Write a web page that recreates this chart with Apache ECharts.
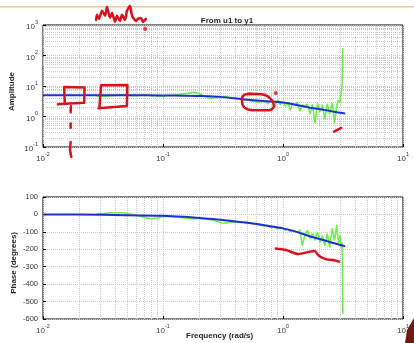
<!DOCTYPE html>
<html>
<head>
<meta charset="utf-8">
<script src="https://cdn.jsdelivr.net/npm/echarts@6/dist/echarts.min.js"></script>
<style>
  html, body { margin: 0; padding: 0; background: #fff; }
  #chart { width: 414px; height: 343px; }
</style>
</head>
<body>
<div id="chart"></div>
<script>
// model (blue) curve
const freqModel = [0.01, 0.02, 0.05, 0.1, 0.15, 0.2, 0.3, 0.46, 0.7, 1, 1.3, 1.67, 2, 2.5, 3, 3.3];
const ampModel = [5.0, 5.0, 4.95, 4.9, 4.8, 4.7, 4.4, 3.7, 3.2, 2.86, 2.4, 1.95, 1.75, 1.5, 1.32, 1.26];
const phaseModel = [0, -1, -4, -8, -14, -20, -30, -45, -62, -80, -100, -125, -140, -160, -175, -182];

// measured (green) response
const freqMeas = [0.028, 0.032, 0.036, 0.04, 0.045, 0.05, 0.056, 0.063, 0.07, 0.08, 0.09, 0.1, 0.11, 0.125,
  0.14, 0.16, 0.18, 0.2, 0.22, 0.25, 0.28, 0.32, 0.36, 0.4, 0.45, 0.5, 0.56, 0.63, 0.7, 0.75, 0.8, 0.85,
  0.9, 0.95, 1.0, 1.05, 1.1, 1.15, 1.2, 1.26, 1.32, 1.38, 1.45, 1.52, 1.6, 1.68, 1.76, 1.85, 1.94, 2.03,
  2.13, 2.23, 2.34, 2.45, 2.57, 2.69, 2.8, 2.9, 2.98, 3.05, 3.1, 3.13, 3.15];
const ampMeas = [4.6, 4.5, 4.7, 5.0, 5.2, 5.0, 4.8, 4.9, 5.1, 4.9, 4.6, 4.7, 4.9, 5.1,
  5.4, 5.8, 6.2, 5.6, 4.6, 3.9, 4.2, 4.5, 4.3, 4.0, 3.6, 3.5, 3.2, 2.9, 3.3, 2.6, 3.4, 2.0,
  3.6, 2.4, 3.1, 2.2, 2.9, 1.6, 2.7, 2.3, 3.0, 1.5, 2.4, 2.0, 2.6, 1.2, 2.5, 0.6, 2.7, 1.4,
  2.4, 0.8, 2.6, 1.2, 2.8, 0.6, 2.2, 3.5, 2.8, 6, 9, 40, 170];
const phaseMeas = [3, 6, 9, 10, 9, 6, 0, -8, -18, -25, -20, -12, -10, -14,
  -18, -22, -26, -22, -26, -30, -40, -52, -45, -44, -46, -44, -52, -60, -66, -64, -76, -70,
  -84, -72, -80, -92, -84, -98, -90, -96, -104, -88, -180, -120, -90, -140, -110, -150, -100, -160,
  -120, -180, -110, -190, -80, -150, -60, -170, -120, -190, -160, -350, -570];

// hand-drawn red marks (in data units)
const redRect1 = [[0.0133, 2.5], [0.0152, 2.6], [0.0150, 9.3], [0.0222, 9.0], [0.0220, 2.8], [0.0152, 2.6]];
const redRect2 = [[0.0295, 1.9], [0.0305, 10.5], [0.0505, 10.8], [0.0500, 2.2], [0.0290, 1.85]];
const redDash1 = [[0.0171, 2.15], [0.0170, 1.37]];
const redDash2 = [[0.0170, 0.59], [0.0170, 0.43]];
const redDash3 = [[0.0170, 0.146], [0.0168, 0.08], [0.0172, 0.047]];
const redOval = [[0.52, 5.6], [0.695, 5.2], [0.81, 3.4], [0.84, 2.2], [0.76, 1.6], [0.57, 1.6],
  [0.47, 2.1], [0.455, 3.7], [0.48, 5.2], [0.54, 5.6]];
const redScribble = [[0.0277, 1468], [0.0282, 2154], [0.0293, 1585], [0.0310, 2929], [0.0329, 1995],
  [0.0341, 3981], [0.0362, 1711], [0.0376, 2512], [0.0398, 1259], [0.0413, 1995], [0.0438, 1359],
  [0.0455, 2154], [0.0482, 1468], [0.0501, 2929], [0.0531, 4300], [0.0552, 1995], [0.0595, 1359],
  [0.0618, 1585], [0.0655, 1711], [0.0681, 1259], [0.0721, 1585]];
const redStroke = [[2.66, 0.32], [3.06, 0.42]];
const redDots = [[0.071, 736], [0.87, 5.85]];
const redPhase = [[0.87, -195], [1.06, -204], [1.34, -227], [1.67, -214], [1.83, -210], [2.0, -239],
  [2.31, -258], [2.6, -262], [2.93, -271]];

// axes
const freqDecades = [0.01, 0.1, 1, 10];
const ampDecades = [0.1, 1, 10, 100, 1000];
const phaseTicks = [100, 0, -100, -200, -300, -400, -500, -600];

const gridColor = '#c8c8c8';
const red = '#d8111b';

const minorFreq = [];
freqDecades.slice(0, -1).forEach(d => { for (let k = 2; k <= 9; k++) minorFreq.push(d * k); });
const minorAmp = [];
ampDecades.slice(0, -1).forEach(d => { for (let k = 2; k <= 9; k++) minorAmp.push(d * k); });

const chart = echarts.init(document.getElementById('chart'));

const supLabel = {
  fontFamily: 'Liberation Sans',
  color: '#333',
  formatter: v => '{b|10}{s|' + Math.round(Math.log10(v)) + '}',
  rich: {
    b: { fontSize: 8, lineHeight: 12, verticalAlign: 'bottom', color: '#333' },
    s: { fontSize: 5.5, lineHeight: 12, verticalAlign: 'top', color: '#333' }
  }
};

const xAxisBase = (gridIndex) => ({
  type: 'log', logBase: 10, min: 0.01, max: 10, gridIndex,
  axisLine: { show: false, onZero: false },
  axisTick: { inside: true, length: 3, lineStyle: { color: '#000' } },
  axisLabel: Object.assign({ margin: 4 }, supLabel),
  splitLine: { show: true, lineStyle: { color: gridColor, type: 'dotted' } }
});

// minor grid lines for the log decades, kept under the curves
function gridLines(xIdx, yIdx, xs, ys) {
  return {
    type: 'line', xAxisIndex: xIdx, yAxisIndex: yIdx, data: [], silent: true, z: 1,
    markLine: {
      z: 1, silent: true, animation: false, symbol: ['none', 'none'], label: { show: false },
      lineStyle: { color: gridColor, type: 'dotted', width: 1 },
      data: xs.map(v => ({ xAxis: v })).concat(ys.map(v => ({ yAxis: v })))
    }
  };
}

function redLine(data, xIdx, yIdx) {
  return {
    type: 'line', xAxisIndex: xIdx, yAxisIndex: yIdx, data, showSymbol: false, clip: false,
    silent: true, z: 10, lineStyle: { color: red, width: 2.5, cap: 'round', join: 'round' }
  };
}

chart.setOption({
  animation: false,
  backgroundColor: '#fff',
  title: {
    text: 'From u1 to y1', left: 222, top: 12, textAlign: 'center',
    textStyle: { fontSize: 8, fontWeight: 'bold', color: '#222', fontFamily: 'Liberation Sans' }
  },
  graphic: [
    { type: 'rect', shape: { x: 0, y: 6, width: 414, height: 1.5 }, style: { fill: '#e6cc95' } },
    { type: 'polygon', shape: { points: [[405, 343], [407, 330], [414, 318], [414, 343]] }, style: { fill: '#6e1a12' } },
    { type: 'text', left: 8, top: 72, rotation: Math.PI / 2,
      style: { text: 'Amplitude', fontSize: 8, fontWeight: 'bold', fill: '#222', fontFamily: 'Liberation Sans' } },
    { type: 'text', left: 10, top: 232, rotation: Math.PI / 2,
      style: { text: 'Phase (degrees)', fontSize: 8, fontWeight: 'bold', fill: '#222', fontFamily: 'Liberation Sans' } },
    { type: 'text', left: 186, top: 332,
      style: { text: 'Frequency (rad/s)', fontSize: 8, fontWeight: 'bold', fill: '#222', fontFamily: 'Liberation Sans' } }
  ],
  grid: [
    { left: 43, top: 25, width: 360, height: 122, show: true, borderColor: '#000', borderWidth: 1, backgroundColor: '#fff' },
    { left: 43, top: 197, width: 360, height: 122, show: true, borderColor: '#000', borderWidth: 1, backgroundColor: '#fff' }
  ],
  xAxis: [xAxisBase(0), xAxisBase(1)],
  yAxis: [
    {
      type: 'log', logBase: 10, min: 0.1, max: 1000, gridIndex: 0,
      axisLine: { show: false, onZero: false },
      axisTick: { inside: true, length: 3, lineStyle: { color: '#000' } },
      axisLabel: Object.assign({ margin: 5 }, supLabel),
      splitLine: { show: true, lineStyle: { color: gridColor, type: 'dotted' } }
    },
    {
      type: 'value', min: -600, max: 100, interval: 100, gridIndex: 1,
      axisLine: { show: false, onZero: false },
      axisTick: { inside: true, length: 3, lineStyle: { color: '#000' } },
      axisLabel: { fontSize: 7.5, color: '#333', margin: 5, fontFamily: 'Liberation Sans',
        formatter: v => phaseTicks.includes(v) ? String(v) : '' },
      splitLine: { show: true, lineStyle: { color: gridColor, type: 'dotted' } }
    }
  ],
  series: [
    gridLines(0, 0, minorFreq, minorAmp),
    gridLines(1, 1, minorFreq, []),
    {
      type: 'line', xAxisIndex: 0, yAxisIndex: 0, showSymbol: false, z: 3,
      data: freqMeas.map((f, i) => [f, ampMeas[i]]),
      lineStyle: { color: '#66f040', width: 1.5 }
    },
    {
      type: 'line', xAxisIndex: 0, yAxisIndex: 0, showSymbol: false, z: 4, smooth: 0.3,
      data: freqModel.map((f, i) => [f, ampModel[i]]),
      lineStyle: { color: '#1f2fd6', width: 2 }
    },
    {
      type: 'line', xAxisIndex: 1, yAxisIndex: 1, showSymbol: false, z: 3,
      data: freqMeas.map((f, i) => [f, phaseMeas[i]]),
      lineStyle: { color: '#66f040', width: 1.5 }
    },
    {
      type: 'line', xAxisIndex: 1, yAxisIndex: 1, showSymbol: false, z: 4, smooth: 0.3,
      data: freqModel.map((f, i) => [f, phaseModel[i]]),
      lineStyle: { color: '#1f2fd6', width: 2 }
    },
    redLine(redRect1, 0, 0),
    redLine(redRect2, 0, 0),
    redLine(redDash1, 0, 0),
    redLine(redDash2, 0, 0),
    redLine(redDash3, 0, 0),
    Object.assign(redLine(redOval, 0, 0), { smooth: 0.4 }),
    Object.assign(redLine(redScribble, 0, 0), { smooth: 0.2 }),
    redLine(redStroke, 0, 0),
    Object.assign(redLine(redPhase, 1, 1), { smooth: 0.3 }),
    {
      type: 'scatter', xAxisIndex: 0, yAxisIndex: 0, data: redDots, symbolSize: 4, clip: false, z: 10,
      itemStyle: { color: red }, silent: true
    }
  ]
});
</script>
</body>
</html>
